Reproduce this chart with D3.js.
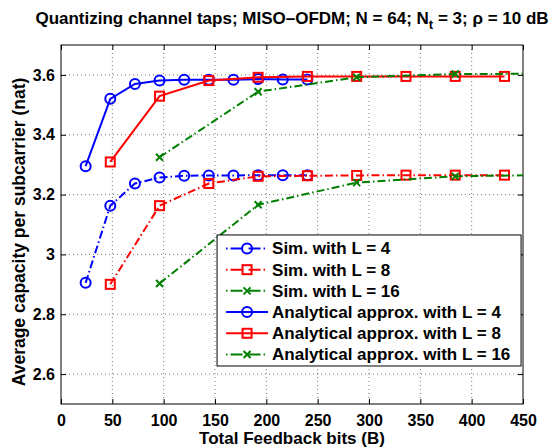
<!DOCTYPE html>
<html>
<head>
<meta charset="utf-8">
<script src="https://cdn.jsdelivr.net/npm/d3@7"></script>
<style>
  body { margin: 0; background: #fff; }
  svg text { font-family: "Liberation Sans", Arial, sans-serif; font-weight: bold; }
</style>
</head>
<body>
<div id="chart"></div>
<script>
// feedback bits for each L
const bitsL4 = [24, 48, 72, 96, 120, 144, 168, 192, 216, 240];
const bitsL8 = [48, 96, 144, 192, 240, 288, 336, 384, 432];
const bitsL16 = [96, 192, 288, 384, 480];

// capacity values (nat)
const simL4 = [2.905, 3.163, 3.237, 3.257, 3.263, 3.264, 3.264, 3.265, 3.265, 3.265];
const simL8 = [2.900, 3.163, 3.237, 3.261, 3.263, 3.264, 3.265, 3.265, 3.265];
const simL16 = [2.903, 3.166, 3.240, 3.261, 3.266];
const anaL4 = [3.295, 3.520, 3.570, 3.581, 3.584, 3.584, 3.584, 3.586, 3.585, 3.585];
const anaL8 = [3.309, 3.529, 3.581, 3.592, 3.595, 3.595, 3.595, 3.595, 3.595];
const anaL16 = [3.325, 3.544, 3.592, 3.603, 3.604];

const xTicks = [0, 50, 100, 150, 200, 250, 300, 350, 400, 450];
const yTicks = [2.6, 2.8, 3, 3.2, 3.4, 3.6];

const seriesNames = [
    "Sim. with L = 4", "Sim. with L = 8", "Sim. with L = 16",
    "Analytical approx. with L = 4", "Analytical approx. with L = 8", "Analytical approx. with L = 16"
];

const blue = "#0000ff", red = "#ff0000", green = "#007f00";
const dashDot = "8,3,1.5,3";

const series = [
    { name: seriesNames[0], x: bitsL4, y: simL4, color: blue, marker: "circle", dash: dashDot },
    { name: seriesNames[1], x: bitsL8, y: simL8, color: red, marker: "square", dash: dashDot },
    { name: seriesNames[2], x: bitsL16, y: simL16, color: green, marker: "cross", dash: dashDot },
    { name: seriesNames[3], x: bitsL4, y: anaL4, color: blue, marker: "circle", dash: null },
    { name: seriesNames[4], x: bitsL8, y: anaL8, color: red, marker: "square", dash: null },
    { name: seriesNames[5], x: bitsL16, y: anaL16, color: green, marker: "cross", dash: dashDot }
];

const W = 549, H = 448;
const margin = {top: 45, right: 26, bottom: 44, left: 61};
const width = W - margin.left - margin.right;
const height = H - margin.top - margin.bottom;

const xScale = d3.scaleLinear().domain([0, 450]).range([0, width]);
const yScale = d3.scaleLinear().domain([2.5, 3.7]).range([height, 0]);

const svg = d3.select("#chart").append("svg")
    .attr("width", W)
    .attr("height", H);

svg.append("defs").append("clipPath").attr("id", "clip")
    .append("rect").attr("width", width).attr("height", height);

const chart = svg.append("g")
    .attr("transform", "translate(" + margin.left + "," + margin.top + ")");

// grid
chart.append("g")
    .selectAll("line")
    .data(xTicks.slice(1, -1))
    .enter().append("line")
    .attr("x1", d => xScale(d)).attr("x2", d => xScale(d))
    .attr("y1", 0).attr("y2", height)
    .attr("stroke", "#555").attr("stroke-width", 0.8).attr("stroke-dasharray", "1,3");
chart.append("g")
    .selectAll("line")
    .data(yTicks)
    .enter().append("line")
    .attr("y1", d => yScale(d)).attr("y2", d => yScale(d))
    .attr("x1", 0).attr("x2", width)
    .attr("stroke", "#555").attr("stroke-width", 0.8).attr("stroke-dasharray", "1,3");

// axes (ticks inside, mirrored)
const styleAxis = g => {
    g.select(".domain").remove();
    g.selectAll("line").attr("stroke", "#000");
    g.selectAll("text").style("font-size", "16px").attr("fill", "#000");
};
chart.append("g")
    .attr("transform", `translate(0, ${height})`)
    .call(d3.axisBottom(xScale).tickValues(xTicks).tickSizeInner(-5).tickSizeOuter(0).tickPadding(10.5))
    .call(styleAxis);
chart.append("g")
    .call(d3.axisTop(xScale).tickValues(xTicks).tickSizeInner(-5).tickSizeOuter(0).tickFormat(""))
    .call(styleAxis);
chart.append("g")
    .call(d3.axisLeft(yScale).tickValues(yTicks).tickSizeInner(-5).tickSizeOuter(0).tickPadding(6)
        .tickFormat(d => d3.format("")(d)))
    .call(styleAxis);
chart.append("g")
    .attr("transform", `translate(${width}, 0)`)
    .call(d3.axisRight(yScale).tickValues(yTicks).tickSizeInner(-5).tickSizeOuter(0).tickFormat(""))
    .call(styleAxis);

chart.append("rect")
    .attr("width", width).attr("height", height)
    .attr("fill", "none").attr("stroke", "#000").attr("stroke-width", 1);

const drawMarker = (sel, type, color) => {
    if (type === "circle") {
        sel.append("circle").attr("r", 5)
            .attr("fill", "none").attr("stroke", color).attr("stroke-width", 2);
    } else if (type === "square") {
        sel.append("rect").attr("x", -4.5).attr("y", -4.5).attr("width", 9).attr("height", 9)
            .attr("fill", "none").attr("stroke", color).attr("stroke-width", 2);
    } else {
        sel.append("path").attr("d", "M-3.5,-3.5L3.5,3.5M-3.5,3.5L3.5,-3.5")
            .attr("fill", "none").attr("stroke", color).attr("stroke-width", 2);
    }
};

const line = d3.line().x(d => xScale(d[0])).y(d => yScale(d[1]));
const plot = chart.append("g").attr("clip-path", "url(#clip)");

series.forEach(s => {
    const pts = s.x.map((v, i) => [v, s.y[i]]);
    plot.append("path")
        .datum(pts)
        .attr("d", line)
        .attr("fill", "none")
        .attr("stroke", s.color)
        .attr("stroke-width", 2)
        .attr("stroke-dasharray", s.dash);
    plot.selectAll(null)
        .data(pts)
        .enter().append("g")
        .attr("transform", d => `translate(${xScale(d[0])},${yScale(d[1])})`)
        .each(function() { drawMarker(d3.select(this), s.marker, s.color); });
});

// legend
const legend = chart.append("g").attr("transform", `translate(${xScale(152)}, ${yScale(3.065)})`);
legend.append("rect")
    .attr("width", 304).attr("height", 131)
    .attr("fill", "#fff").attr("stroke", "#000").attr("stroke-width", 1);
series.forEach((s, i) => {
    const row = legend.append("g").attr("transform", `translate(0, ${13.5 + i * 21.2})`);
    row.append("line")
        .attr("x1", 9).attr("x2", 51)
        .attr("stroke", s.color).attr("stroke-width", 2)
        .attr("stroke-dasharray", s.dash ? "1.5,3,12,6,12,3" : null);
    drawMarker(row.append("g").attr("transform", "translate(30,0)"), s.marker, s.color);
    row.append("text")
        .attr("x", 55).attr("y", 6)
        .style("font-size", "17px")
        .text(s.name);
});

// titles
const title = svg.append("text")
    .attr("x", margin.left + width / 2).attr("y", 24)
    .attr("text-anchor", "middle")
    .style("font-size", "17px");
title.append("tspan").text("Quantizing channel taps; MISO\u2013OFDM; N = 64; N");
title.append("tspan").attr("dy", 5).style("font-size", "13px").text("t");
title.append("tspan").attr("dy", -5).text(" = 3; \u03c1 = 10 dB");

svg.append("text")
    .attr("x", margin.left + width / 2).attr("y", 444)
    .attr("text-anchor", "middle")
    .style("font-size", "17px")
    .text("Total Feedback bits (B)");

svg.append("text")
    .attr("transform", "translate(25, 232) rotate(-90)")
    .attr("text-anchor", "middle")
    .style("font-size", "17.5px")
    .text("Average capacity per subcarrier (nat)");
</script>
</body>
</html>
